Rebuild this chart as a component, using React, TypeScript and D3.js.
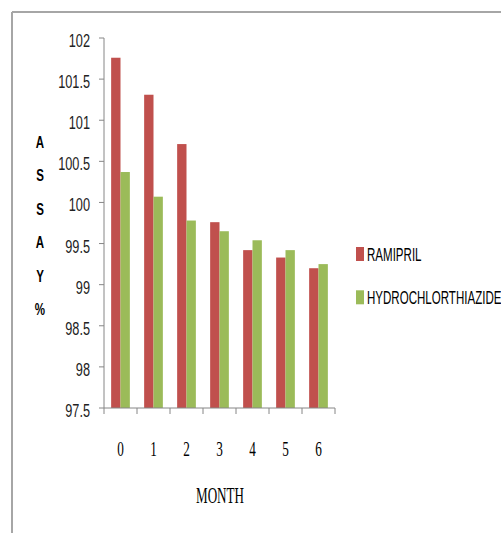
import React from "react";
import * as d3 from "d3";

const months = ["0", "1", "2", "3", "4", "5", "6"];
const seriesNames = ["RAMIPRIL", "HYDROCHLORTHIAZIDE"];
const ramipril = [101.76, 101.31, 100.71, 99.76, 99.42, 99.33, 99.2];
const hydrochlorthiazide = [100.37, 100.07, 99.78, 99.65, 99.54, 99.42, 99.25];
const yTicks = [97.5, 98, 98.5, 99, 99.5, 100, 100.5, 101, 101.5, 102];
const yTitleLetters = ["A", "S", "S", "A", "Y", "%"];
const colors = ["#C0504D", "#9BBB59"];

export default function App() {
  const W = 501, H = 533;
  const left = 104, right = 335, top = 38, bottom = 408;
  const x = d3.scaleBand().domain(months).range([left, right]).paddingInner(0.433).paddingOuter(0.2165);
  const sub = d3.scaleBand().domain(seriesNames).range([0, x.bandwidth()]);
  const y = d3.scaleLinear().domain([97.5, 102]).range([bottom, top]);
  const series = [ramipril, hydrochlorthiazide];
  const step = x.step();
  const boundaries = d3.range(months.length + 1).map((i) => left + i * step);
  const axisColor = "#868686";
  const sans = "'Liberation Sans', Arial, sans-serif";
  const serif = "'Liberation Serif', 'Times New Roman', serif";

  return (
    <svg width={W} height={H} style={{ position: "absolute", left: 0, top: 0, background: "#fff" }}>
      <rect x={0} y={0} width={W} height={H} fill="#fff" />
      {/* outer frame */}
      <line x1={12} y1={12} x2={W} y2={12} stroke="#a6a6a6" strokeWidth={2} />
      <line x1={12} y1={12} x2={12} y2={H} stroke="#a6a6a6" strokeWidth={2} />

      {/* bars */}
      {series.map((vals, si) =>
        vals.map((v, i) => (
          <rect
            key={`${si}-${i}`}
            x={(x(months[i]) as number) + (sub(seriesNames[si]) as number)}
            y={y(v)}
            width={sub.bandwidth()}
            height={bottom - y(v)}
            fill={colors[si]}
          />
        ))
      )}

      {/* y axis */}
      <line x1={left} y1={top} x2={left} y2={bottom} stroke={axisColor} strokeWidth={1} />
      {yTicks.map((t) => (
        <g key={t}>
          <line x1={left - 5} x2={left} y1={y(t)} y2={y(t)} stroke={axisColor} />
          <text
            transform={`translate(${left - 14},${y(t) + 9}) scale(0.67,1)`}
            textAnchor="end"
            fontFamily={sans}
            fontSize={19}
            fill="#222"
          >
            {t}
          </text>
        </g>
      ))}

      {/* x axis */}
      <line x1={left} y1={bottom} x2={right} y2={bottom} stroke={axisColor} strokeWidth={1} />
      {boundaries.map((b, i) => (
        <line key={i} x1={b} x2={b} y1={bottom} y2={bottom + 6} stroke={axisColor} />
      ))}
      {months.map((m) => (
        <text
          key={m}
          transform={`translate(${(x(m) as number) + x.bandwidth() / 2},${456}) scale(0.6,1)`}
          textAnchor="middle"
          fontFamily={serif}
          fontSize={22}
          fill="#000"
        >
          {m}
        </text>
      ))}
      <text
        transform={`translate(220,503) scale(0.57,1)`}
        textAnchor="middle"
        fontFamily={serif}
        fontSize={23}
        fill="#000"
      >
        MONTH
      </text>

      {/* y title */}
      {yTitleLetters.map((l, i) => (
        <text
          key={i}
          transform={`translate(40,${148 + i * 33.4}) scale(0.72,1)`}
          textAnchor="middle"
          fontFamily={sans}
          fontWeight="bold"
          fontSize={16}
          fill="#000"
        >
          {l}
        </text>
      ))}

      {/* legend */}
      {seriesNames.map((n, i) => (
        <g key={n}>
          <rect x={356} y={247 + i * 43.3} width={8} height={14} fill={colors[i]} />
          <text
            transform={`translate(367,${261 + i * 43.3}) scale(0.66,1)`}
            fontFamily={sans}
            fontSize={17.5}
            fill="#000"
          >
            {n}
          </text>
        </g>
      ))}
    </svg>
  );
}
